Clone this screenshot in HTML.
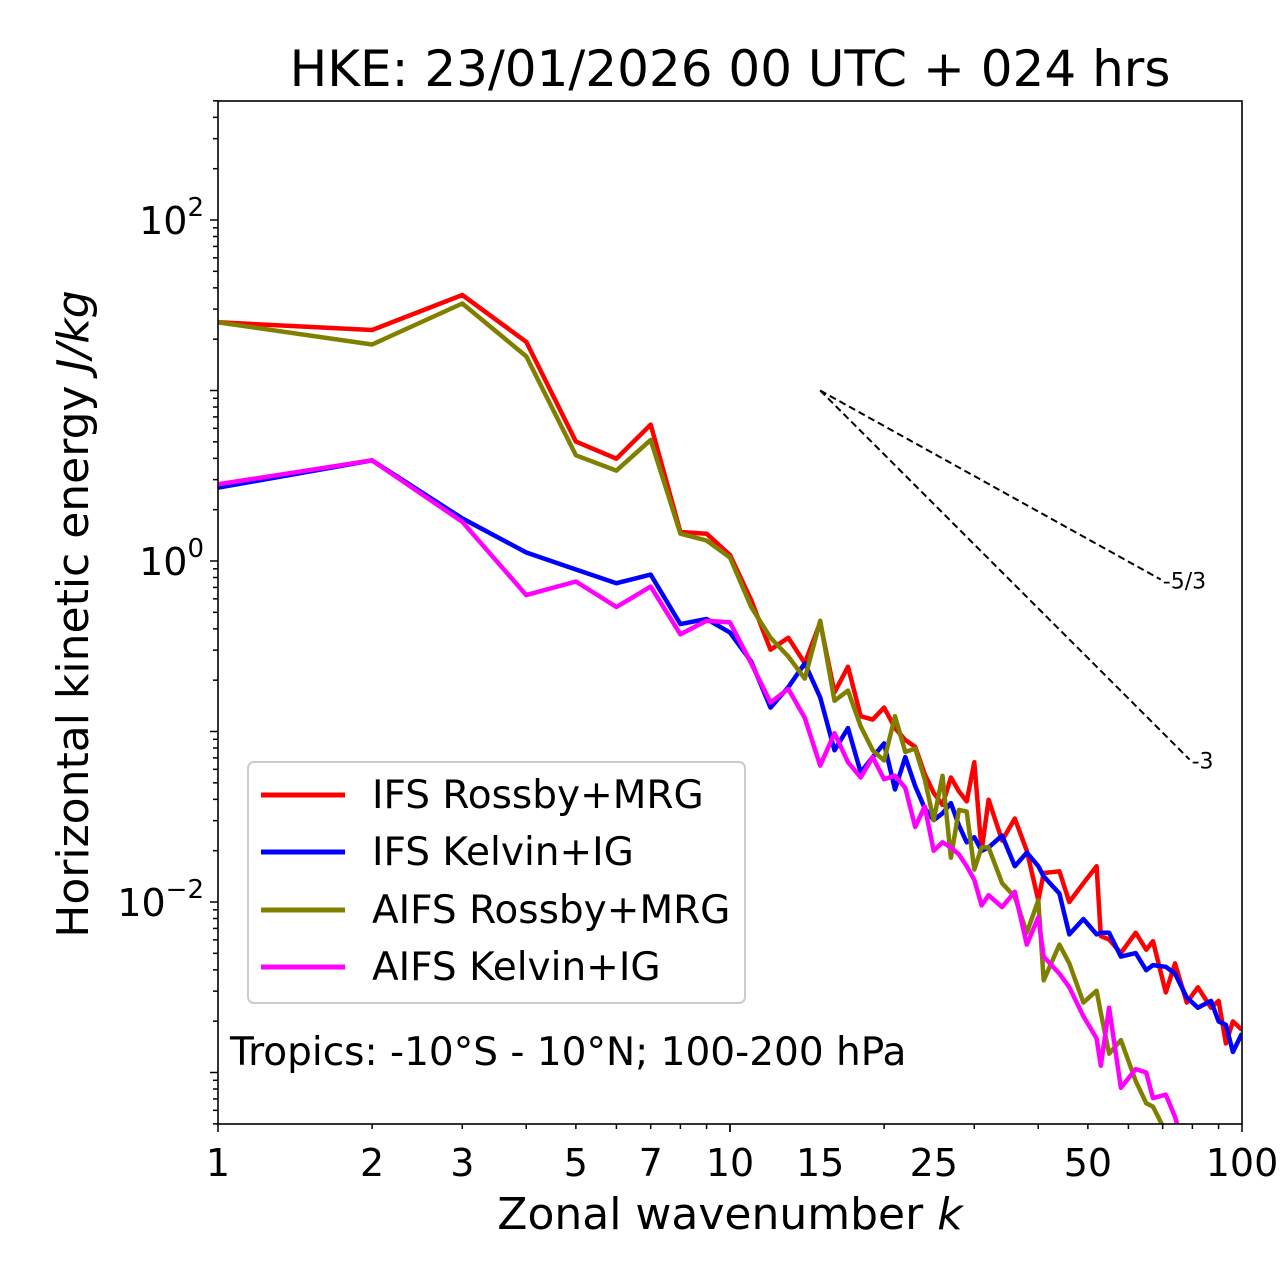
<!DOCTYPE html>
<html><head><meta charset="utf-8"><style>
body{margin:0;background:#fff}
svg{display:block;font-family:"DejaVu Sans","Liberation Sans",sans-serif}
</style></head><body>
<svg id="chart" width="1280" height="1288" viewBox="0 0 1280 1288" xmlns="http://www.w3.org/2000/svg">
<defs><clipPath id="plotclip"><rect x="218" y="101" width="1024" height="1023"/></clipPath></defs>
<rect width="1280" height="1288" fill="#fff"/>
<text x="730" y="86" font-size="50" text-anchor="middle">HKE: 23/01/2026 00 UTC + 024 hrs</text>
<g id="axes"></g>
<g id="series" clip-path="url(#plotclip)"></g>
<rect x="218" y="101" width="1024" height="1023" fill="none" stroke="#000" stroke-width="1.6"/>
<text x="730" y="1229" font-size="44" text-anchor="middle">Zonal wavenumber <tspan font-style="italic">k</tspan></text>
<text transform="translate(88,614) rotate(-90)" font-size="44" text-anchor="middle">Horizontal kinetic energy <tspan font-style="italic">J/kg</tspan></text>
<g>
<rect x="248" y="762" width="497" height="241" rx="6" fill="#fff" fill-opacity="0.8" stroke="#ccc" stroke-width="2"/>
<line x1="261" y1="795" x2="345" y2="795" stroke="#ff0000" stroke-width="5"/>
<text x="372" y="808" font-size="39">IFS Rossby+MRG</text>
<line x1="261" y1="852" x2="345" y2="852" stroke="#0000ff" stroke-width="5"/>
<text x="372" y="865" font-size="39">IFS Kelvin+IG</text>
<line x1="261" y1="910" x2="345" y2="910" stroke="#808000" stroke-width="5"/>
<text x="372" y="923" font-size="39">AIFS Rossby+MRG</text>
<line x1="261" y1="967" x2="345" y2="967" stroke="#ff00ff" stroke-width="5"/>
<text x="372" y="980" font-size="39">AIFS Kelvin+IG</text>
</g>
<text x="230" y="1065" font-size="39">Tropics: -10°S - 10°N; 100-200 hPa</text>
</svg>
<script>
// wavenumbers
const ks=[1,2,3,4,5,6,7,8,9,10,11,12,13,14,15,16,17,18,19,20,21,22,23,24,25,26,27,28,29,30,31,32,34,36,38,40,41,44,46,49,52,53,55,58,62,65,67,71,74,78,82,87,90,93,96,100];
// log10 of energy (J/kg)
const ifsRossbyLog=[1.40,1.355,1.56,1.285,0.70,0.60,0.80,0.17,0.16,0.035,-0.23,-0.52,-0.45,-0.60,-0.36,-0.77,-0.62,-0.91,-0.93,-0.86,-0.98,-1.05,-1.09,-1.25,-1.36,-1.43,-1.27,-1.35,-1.41,-1.18,-1.70,-1.40,-1.64,-1.51,-1.70,-1.99,-1.83,-1.82,-2.00,-1.89,-1.79,-2.20,-2.22,-2.30,-2.18,-2.28,-2.23,-2.53,-2.36,-2.59,-2.50,-2.62,-2.58,-2.83,-2.70,-2.75];
const ifsKelvinLog=[0.43,0.59,0.25,0.05,-0.05,-0.13,-0.08,-0.37,-0.34,-0.42,-0.59,-0.86,-0.74,-0.60,-0.80,-1.11,-0.98,-1.24,-1.15,-1.07,-1.34,-1.15,-1.32,-1.45,-1.52,-1.48,-1.42,-1.55,-1.65,-1.62,-1.70,-1.68,-1.61,-1.79,-1.71,-1.79,-1.85,-1.95,-2.19,-2.10,-2.19,-2.18,-2.18,-2.32,-2.30,-2.40,-2.37,-2.38,-2.42,-2.56,-2.62,-2.58,-2.70,-2.72,-2.88,-2.77];
const aifsRossbyLog=[1.40,1.27,1.51,1.20,0.62,0.53,0.71,0.16,0.12,0.02,-0.27,-0.45,-0.56,-0.69,-0.35,-0.82,-0.76,-0.97,-1.11,-1.17,-0.91,-1.12,-1.10,-1.28,-1.52,-1.26,-1.74,-1.46,-1.47,-1.81,-1.68,-1.68,-1.89,-1.97,-2.18,-1.99,-2.46,-2.25,-2.36,-2.59,-2.52,-2.65,-2.89,-2.81,-3.05,-3.18,-3.20,-3.35,-3.45,-3.5,-3.5,-3.5,-3.5,-3.5,-3.5,-3.5];
const aifsKelvinLog=[0.45,0.59,0.23,-0.20,-0.12,-0.27,-0.15,-0.43,-0.35,-0.36,-0.60,-0.83,-0.75,-0.92,-1.20,-1.01,-1.18,-1.27,-1.15,-1.28,-1.26,-1.33,-1.56,-1.44,-1.70,-1.65,-1.68,-1.72,-1.79,-1.87,-2.02,-1.96,-2.03,-1.94,-2.25,-2.09,-2.32,-2.42,-2.50,-2.67,-2.80,-2.96,-2.62,-3.09,-2.98,-3.00,-3.15,-3.13,-3.26,-3.5,-3.5,-3.5,-3.5,-3.5,-3.5,-3.5];
const xTickLabels=["1","2","3","5","7","10","15","25","50","100"];
const xTickValues=[1,2,3,5,7,10,15,25,50,100];
const yTickExps=[-2,0,2];
const refSlopes=[-5/3,-3];
const refSlopeLabels=["-5/3","-3"];
const refStartK=15, refStartLog=1.0;
const refEndKs=[69.4,79];

const NS="http://www.w3.org/2000/svg";
const X0=218,X1=1242,YTOP=101,YBOT=1124;
const xs=k=>X0+Math.log10(k)*(X1-X0)/2;
const ys=l=>561-l*170.5;
function mk(tag,attrs,parent){const e=document.createElementNS(NS,tag);for(const a in attrs)e.setAttribute(a,attrs[a]);parent.appendChild(e);return e;}
const axes=document.getElementById('axes');
for(let d=0;d<2;d++)for(let m=1;m<=10;m++){const k=m*Math.pow(10,d);if(k>100)continue;const x=xs(k);const major=(m===1||m===10);
 const t=mk('line',{x1:x,x2:x,y1:YBOT,y2:YBOT+(major?8:5),stroke:'#000','stroke-width':1.5},axes);
 
 }
xTickValues.forEach((v,i)=>{const t=mk('text',{x:xs(v),y:YBOT+52,'font-size':38,'text-anchor':'middle'},axes);t.textContent=xTickLabels[i];
 
 });
for(let e=-4;e<=2;e++)for(let m=1;m<=9;m++){const l=e+Math.log10(m);const y=ys(l);if(y<YTOP-0.5||y>YBOT+0.5)continue;const major=m===1;
 const t=mk('line',{x1:X0-(major?8:5),x2:X0,y1:y,y2:y,stroke:'#000','stroke-width':1.5},axes);
 
 }
yTickExps.forEach(e=>{const t=mk('text',{x:X0-14,y:ys(e)+14,'font-size':38,'text-anchor':'end'},axes);
 t.innerHTML='10<tspan dy="-18" font-size="26">'+(e<0?'\u2212'+(-e):e)+'</tspan>';
 
 });
const g=document.getElementById('series');
function draw(vals,color,name){const p=ks.map((k,i)=>xs(k).toFixed(1)+','+ys(vals[i]).toFixed(1)).join(' ');
 const pl=mk('polyline',{points:p,fill:'none',stroke:color,'stroke-width':4.5,'stroke-linejoin':'round'},g);
 
 }
draw(ifsRossbyLog,'#ff0000','ifs-rossby-line');
draw(ifsKelvinLog,'#0000ff','ifs-kelvin-line');
draw(aifsRossbyLog,'#808000','aifs-rossby-line');
draw(aifsKelvinLog,'#ff00ff','aifs-kelvin-line');
const svg=document.getElementById('chart');
refSlopes.forEach((s,i)=>{const k2=refEndKs[i];const l2=refStartLog+s*Math.log10(k2/refStartK);
 const ln=mk('line',{x1:xs(refStartK),y1:ys(refStartLog),x2:xs(k2),y2:ys(l2),stroke:'#000','stroke-width':2,'stroke-dasharray':'7,4'},svg);
 
 
 const t=mk('text',{x:xs(k2)+2,y:ys(l2)+9,'font-size':22},svg);t.textContent=refSlopeLabels[i];
 
 });
</script>
</body></html>
